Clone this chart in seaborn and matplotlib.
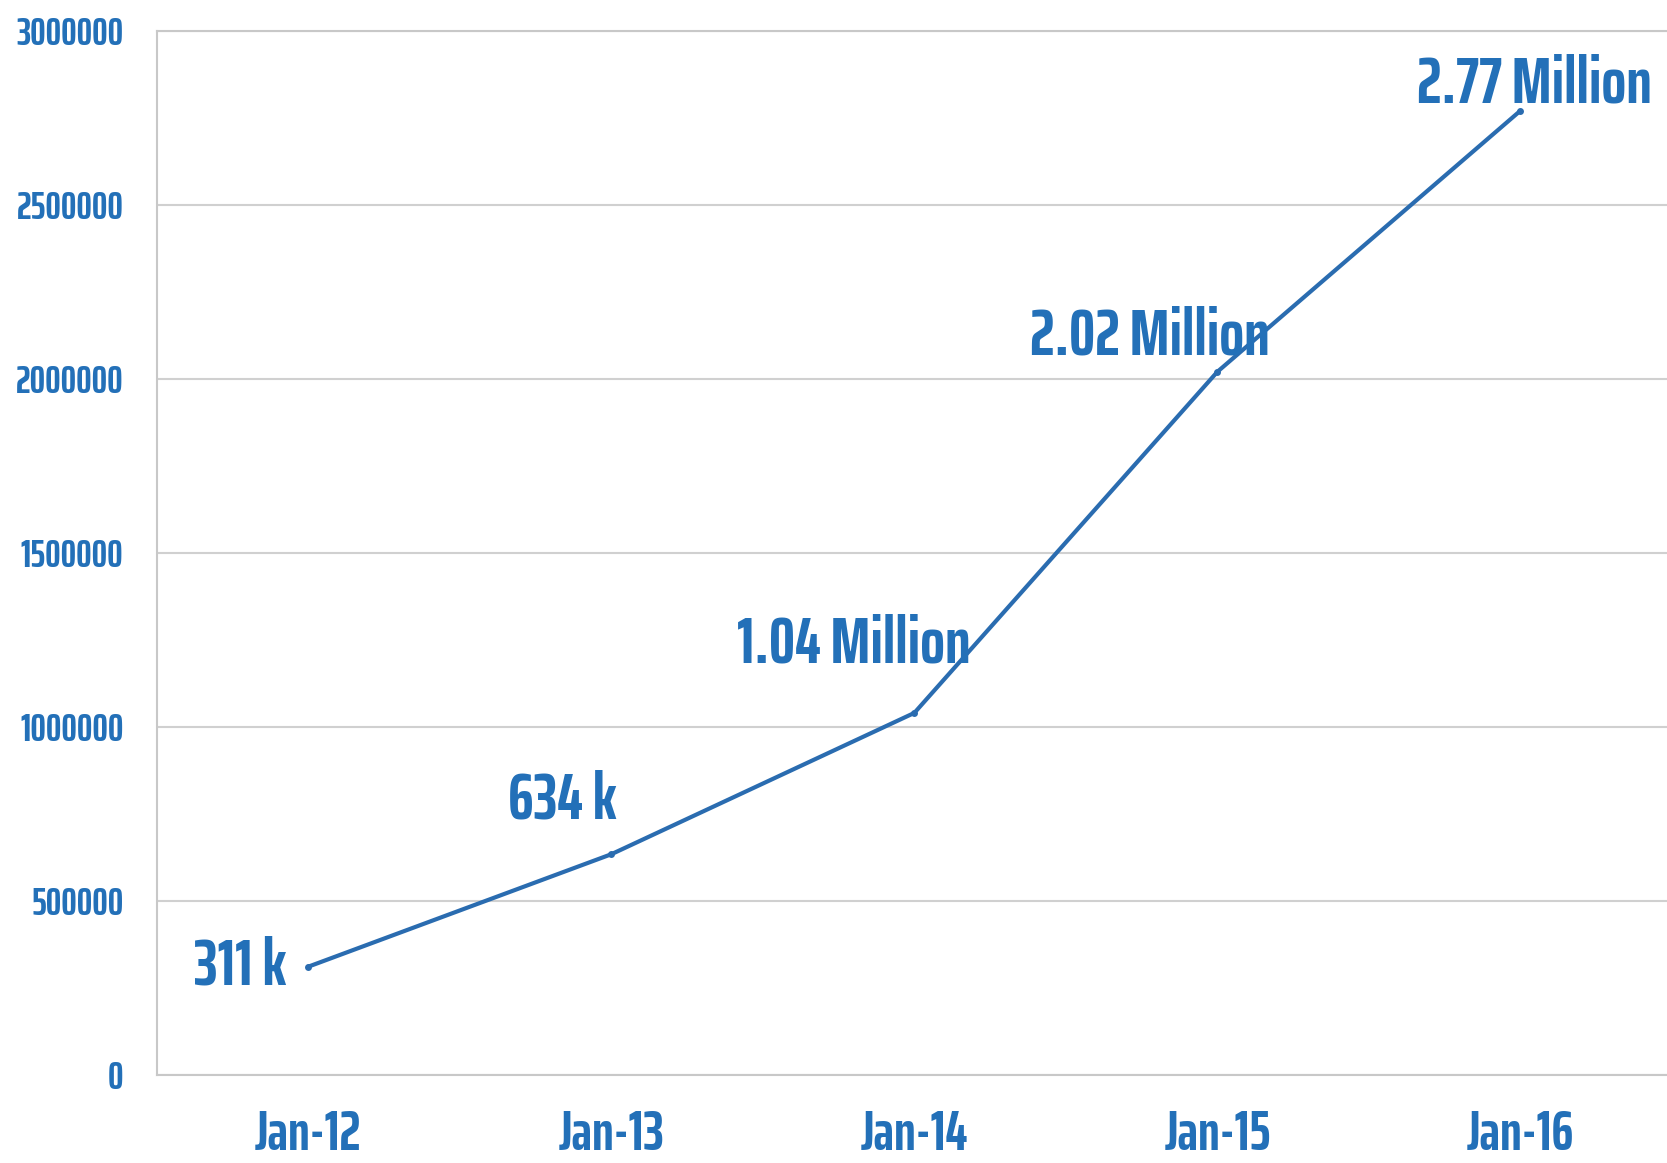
import seaborn as sns
import matplotlib.pyplot as plt
import matplotlib.ticker as mticker
import pandas as pd

periodo = ['Jan-12', 'Jan-13', 'Jan-14', 'Jan-15', 'Jan-16']
usuarios = [311000, 634000, 1040000, 2020000, 2770000]
rotulos = ['311 k', '634 k', '1.04 Million', '2.02 Million', '2.77 Million']

df = pd.DataFrame({'periodo': periodo, 'usuarios': usuarios})

azul = '#2370b8'
linha = '#2a6cb0'
fonte = ['Saira ExtraCondensed', 'Liberation Sans', 'DejaVu Sans']

sns.set_style('white')
plt.rcParams['font.family'] = fonte

fig = plt.figure(figsize=(16.67, 11.63), dpi=100)
ax = fig.add_axes([0.094, 0.0757, 0.909, 0.898])

sns.lineplot(data=df, x='periodo', y='usuarios', ax=ax, color=linha, linewidth=3,
             marker='o', markersize=5, markeredgewidth=0, sort=False)

ax.set_ylim(0, 3000000)
ax.set_xlim(-0.5, 4.5)
ax.yaxis.set_major_locator(mticker.MultipleLocator(500000))
ax.yaxis.set_major_formatter(mticker.FuncFormatter(lambda v, p: f'{int(v)}'))
ax.grid(axis='y', color='#d0d0d0', linewidth=1.5)
ax.set_axisbelow(True)

ax.spines['right'].set_visible(False)
for s in ['left', 'bottom', 'top']:
    ax.spines[s].set_color('#c8c8c8')
    ax.spines[s].set_linewidth(1.5)

ax.xaxis.set_minor_locator(mticker.FixedLocator([-0.5, 0.5, 1.5, 2.5, 3.5, 4.5]))
ax.tick_params(axis='x', which='major', length=0, pad=24, labelsize=40, labelcolor=azul)
ax.tick_params(axis='x', which='minor', length=10, width=1.2, color='#b0b0b0', direction='out')
ax.tick_params(axis='y', length=0, pad=24, labelsize=28, labelcolor=azul)
for t in ax.get_xticklabels() + ax.get_yticklabels():
    t.set_fontweight('bold')

ax.set_xlabel('')
ax.set_ylabel('')

# posicoes dos rotulos (offset em pixels)
desloc = [(-22, 0), (-49, 54), (-61, 68), (-68, 35), (14, 26)]
alinh = ['right', 'center', 'center', 'center', 'center']
for i, (v, r) in enumerate(zip(usuarios, rotulos)):
    ax.annotate(r, xy=(i, v), xytext=desloc[i], textcoords='offset pixels',
                ha=alinh[i], va='center', fontsize=47, fontweight='bold', color=azul)

plt.savefig('out.png', dpi=100)
